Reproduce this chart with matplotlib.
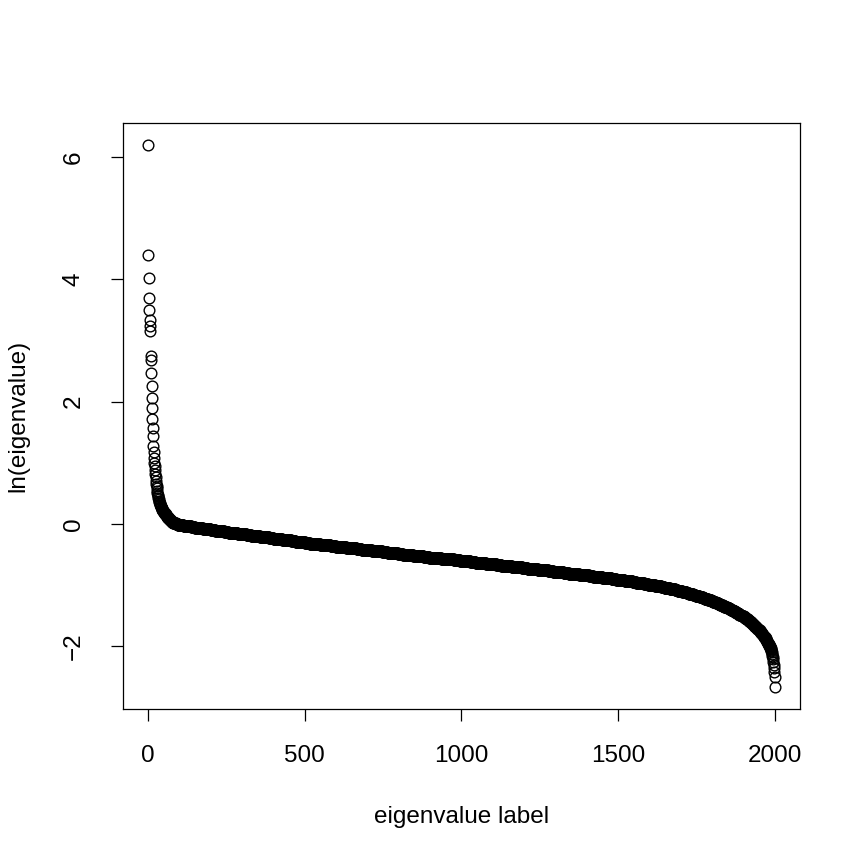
import numpy as np
import matplotlib
matplotlib.use('Agg')
import matplotlib.pyplot as plt

plt.rcParams['font.family'] = ['Liberation Sans', 'DejaVu Sans']

# largest eigenvalues (labels 1..50), read one by one
head_vals = [6.20, 4.40, 4.02, 3.70, 3.50, 3.34, 3.24, 3.16, 2.75, 2.68,
             2.47, 2.26, 2.06, 1.90, 1.71, 1.57, 1.43, 1.28, 1.17, 1.08,
             1.00, 0.94, 0.88, 0.82, 0.76, 0.71, 0.66, 0.62, 0.58, 0.54,
             0.51, 0.48, 0.45, 0.42, 0.40, 0.38, 0.36, 0.34, 0.32, 0.31,
             0.29, 0.28, 0.27, 0.26, 0.25, 0.24, 0.23, 0.22, 0.215, 0.21]

# bulk: number of labels sitting in each 0.01-wide band of ln(eigenvalue),
# starting at 0.20 and going down
bulk_top = 0.20
bulk_step = 0.01
bulk_counts = [1, 1, 2, 1, 2, 1, 1, 1, 2, 1, 2, 2, 2, 1, 3, 2, 3, 2, 5, 5, 5, 5,
               13, 12, 13, 12, 13, 12, 13, 12,
               15, 14, 14, 14, 15, 14, 14, 14, 15, 14, 14, 14, 15, 14, 14, 14,
               15, 14, 14, 14,
               16, 15,
               17, 16, 17, 16, 17, 16, 17, 16, 17, 16, 17, 16, 17, 16, 17, 16,
               17, 16, 17, 16, 17, 16,
               18, 18, 20, 20, 20, 20,
               17, 16, 17, 16, 17, 16, 17, 16, 17, 16, 17, 16, 17, 16, 17, 16,
               17, 16, 17, 16, 17, 16, 17, 16,
               15, 14, 15, 14, 15, 14, 15, 14,
               13, 12, 13, 12, 13, 12, 13, 12,
               10, 10, 10, 10,
               9, 8, 9, 8, 8, 8,
               7, 7, 7, 7, 7, 7, 7, 7,
               6, 5, 6, 5, 6, 5, 6, 5,
               5, 4, 5, 4, 5, 4, 5, 4, 5, 4, 5, 4,
               4, 3, 4, 3, 4, 3, 4, 3, 4, 3, 4, 3, 4, 3,
               3, 2, 3, 2, 3, 2, 3, 2, 3, 2,
               2, 2, 2, 2, 2, 2, 2, 2, 2, 2, 2, 2,
               2, 1, 2, 1, 2, 1, 2, 1, 2, 1, 2, 1]

# smallest eigenvalues (last 33 labels), read one by one
tail_vals = [-1.85, -1.86, -1.87, -1.88, -1.89, -1.90, -1.91, -1.92, -1.93, -1.94,
             -1.95, -1.96, -1.97, -1.98, -1.99, -2.00, -2.01, -2.02, -2.03, -2.04,
             -2.06, -2.08, -2.10, -2.13, -2.16, -2.18, -2.20, -2.25, -2.30, -2.36,
             -2.42, -2.50, -2.67]

xticks = [0, 500, 1000, 1500, 2000]
yticks = [-2, 0, 2, 4, 6]

bulk_levels = np.round(bulk_top - bulk_step * np.arange(len(bulk_counts)), 2)
values = np.concatenate([head_vals, np.repeat(bulk_levels, bulk_counts), tail_vals])
labels = np.arange(1, len(values) + 1)

fig = plt.figure(figsize=(8.63, 8.63), dpi=100)
ax = fig.add_axes([123/863, 154/863, 677/863, 586/863])

ax.plot(labels, values, 'o', ms=7.7, mfc='none', mec='black', mew=1.0)

# R style limits: 4% padding on each side
def r_lim(v):
    lo, hi = np.min(v), np.max(v)
    pad = 0.04 * (hi - lo)
    return lo - pad, hi + pad

ax.set_xlim(r_lim(labels))
ax.set_ylim(r_lim(values))

ax.set_xticks(xticks)
ax.set_yticks(yticks)
ax.set_xticklabels([str(t) for t in xticks])
ax.set_yticklabels([str(t).replace('-', '\u2212') for t in yticks], rotation=90, va='center')
ax.tick_params(length=8.6, width=0.9, labelsize=17.5, direction='out')
ax.tick_params(axis='x', pad=17)
ax.tick_params(axis='y', pad=19)

for sp in ax.spines.values():
    sp.set_linewidth(0.9)

ax.set_xlabel('eigenvalue label', fontsize=17.5, va='center')
ax.set_ylabel('ln(eigenvalue)', fontsize=17.5, va='center')
ax.xaxis.set_label_coords(0.5, (709 - 817) / 586)
ax.yaxis.set_label_coords((18 - 123) / 677, 0.5)

fig.savefig('out.png', dpi=100)
